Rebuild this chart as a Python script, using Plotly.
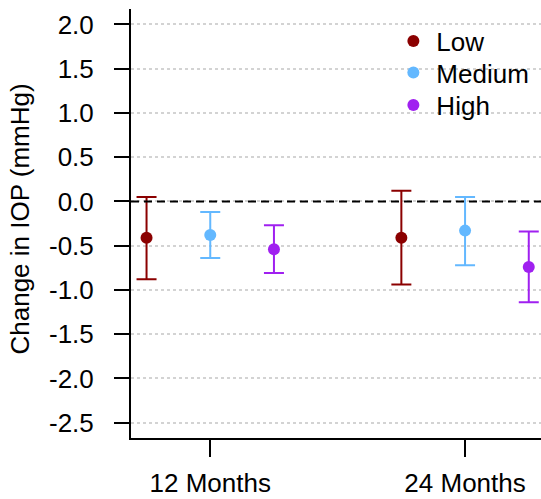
import plotly.graph_objects as go

# Follow-up time points and IOP-lowering dose groups
timepoints = ["12 Months", "24 Months"]
groups = ["Low", "Medium", "High"]
colors = ["#8B0000", "#63B8FF", "#A020F0"]

# Mean change in IOP (mmHg) with 95% CI, per group across time points
mean_change = {
    "Low":    [-0.41, -0.41],
    "Medium": [-0.38, -0.33],
    "High":   [-0.54, -0.74],
}
ci_lower = {
    "Low":    [-0.88, -0.94],
    "Medium": [-0.64, -0.72],
    "High":   [-0.81, -1.14],
}
ci_upper = {
    "Low":    [0.05, 0.12],
    "Medium": [-0.12, 0.05],
    "High":   [-0.27, -0.34],
}

# horizontal dodge of each group around its time point
dodge = [-0.25, 0.0, 0.25]
y_ticks = [-2.5, -2.0, -1.5, -1.0, -0.5, 0.0, 0.5, 1.0, 1.5, 2.0]

FONT = "Liberation Sans, Arial, Helvetica, sans-serif"
FS = 26

# one legend box per group so the rows sit close together
legend_names = ["legend", "legend2", "legend3"]
legend_rows = [0.925, 0.852, 0.776]

fig = go.Figure()
for g, col, off, lg in zip(groups, colors, dodge, legend_names):
    xs = [i + 1 + off for i in range(len(timepoints))]
    ys = mean_change[g]
    up = [u - m for u, m in zip(ci_upper[g], ys)]
    lo = [m - l for m, l in zip(ys, ci_lower[g])]
    fig.add_trace(go.Scatter(
        x=xs, y=ys, mode="markers", name=g, legend=lg,
        marker=dict(color=col, size=12),
        error_y=dict(type="data", symmetric=False, array=up, arrayminus=lo,
                     color=col, thickness=2, width=10),
    ))

# reference line at no change
fig.add_shape(type="line", xref="paper", yref="y", x0=0, x1=1, y0=0, y1=0,
              line=dict(color="black", width=2, dash="8px,5px"), layer="above")

fig.add_annotation(text="Change in IOP (mmHg)", textangle=-90,
                   xref="paper", yref="paper", x=-0.27, y=0.51,
                   xanchor="center", yanchor="middle", showarrow=False,
                   font=dict(family=FONT, size=FS, color="black"))

legend_style = {}
for lg, yr in zip(legend_names, legend_rows):
    legend_style[lg] = dict(x=0.6326, y=yr, xanchor="left", yanchor="middle",
                            itemwidth=36,
                            bgcolor="rgba(0,0,0,0)", font=dict(size=FS))

fig.update_layout(
    width=541, height=499,
    margin=dict(l=131, r=0, t=9, b=61, autoexpand=False),
    plot_bgcolor="white", paper_bgcolor="white",
    font=dict(family=FONT, size=FS, color="black"),
    showlegend=True,
    xaxis=dict(range=[0.689, 2.298], tickmode="array",
               tickvals=[1, 2], ticktext=timepoints, automargin=False,
               showgrid=False, zeroline=False, showline=True,
               linecolor="black", linewidth=2,
               ticks="outside", ticklen=17, tickwidth=2, tickcolor="black",
               ticklabelstandoff=4),
    yaxis=dict(range=[-2.673, 2.174], tickmode="array", tickvals=y_ticks,
               ticktext=[f"{v:.1f}" for v in y_ticks], automargin=False,
               showgrid=True, gridcolor="#D3D3D3", gridwidth=1.5,
               griddash="dot", zeroline=False, showline=True,
               linecolor="black", linewidth=2,
               ticks="outside", ticklen=15, tickwidth=2, tickcolor="black",
               ticklabelstandoff=15),
    **legend_style,
)

fig.write_html("out.html")
